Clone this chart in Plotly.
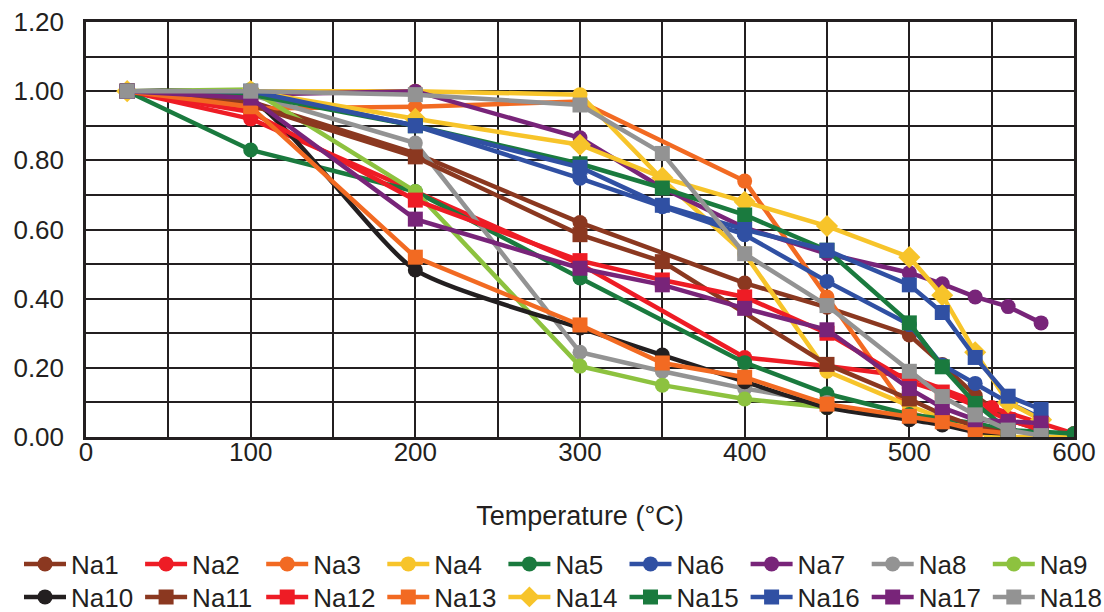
import plotly.graph_objects as go

# ---- data (temperature in °C, normalised value) ----
t_na1 = [25, 100, 200, 300, 400, 450, 500, 520, 540, 560, 580]
v_na1 = [1.00, 0.97, 0.82, 0.62, 0.445, 0.375, 0.295, 0.21, 0.12, 0.05, 0.02]

t_na2 = [25, 100, 300, 400, 450, 500, 550, 600]
v_na2 = [1.00, 0.92, 0.50, 0.23, 0.205, 0.175, 0.085, 0.01]

t_na3 = [25, 100, 200, 300, 400, 450, 500, 550]
v_na3 = [1.00, 0.95, 0.955, 0.97, 0.74, 0.405, 0.07, 0.005]

t_na4 = [25, 100, 200, 300, 350, 400, 450, 500, 550, 600]
v_na4 = [1.00, 1.00, 1.00, 0.99, 0.745, 0.53, 0.19, 0.09, 0.0, 0.0]

t_na5 = [25, 100, 200, 300, 400, 450, 500, 540, 560, 600]
v_na5 = [1.00, 0.83, 0.71, 0.46, 0.215, 0.125, 0.065, 0.04, 0.02, 0.01]

t_na6 = [25, 100, 200, 300, 350, 400, 450, 500, 520, 540, 560, 580]
v_na6 = [1.00, 1.00, 0.90, 0.748, 0.666, 0.585, 0.45, 0.325, 0.208, 0.155, 0.10, 0.055]

t_na7 = [25, 100, 200, 300, 350, 400, 450, 500, 520, 540, 560, 580]
v_na7 = [1.00, 0.99, 1.00, 0.865, 0.72, 0.605, 0.53, 0.475, 0.443, 0.405, 0.377, 0.33]

t_na8 = [25, 100, 200, 300, 350, 400, 450]
v_na8 = [1.00, 0.99, 0.85, 0.245, 0.19, 0.14, 0.10]

t_na9 = [25, 100, 200, 300, 350, 400, 450]
v_na9 = [1.00, 1.005, 0.71, 0.205, 0.15, 0.11, 0.085]

t_na10 = [25, 100, 200, 300, 350, 400, 450, 500, 520, 540, 560]
v_na10 = [1.00, 0.975, 0.483, 0.315, 0.237, 0.16, 0.085, 0.05, 0.035, 0.015, 0.01]

t_na11 = [25, 100, 200, 300, 350, 450, 500, 520, 540, 560]
v_na11 = [1.00, 0.96, 0.81, 0.585, 0.507, 0.21, 0.11, 0.065, 0.03, 0.01]

t_na12 = [25, 100, 200, 300, 350, 400, 450, 500, 520, 540, 560, 580]
v_na12 = [1.00, 0.94, 0.685, 0.51, 0.454, 0.405, 0.30, 0.16, 0.13, 0.09, 0.05, 0.02]

t_na13 = [25, 100, 200, 300, 350, 400, 450, 500, 520, 540, 560]
v_na13 = [1.00, 0.955, 0.52, 0.324, 0.214, 0.173, 0.095, 0.06, 0.044, 0.02, 0.01]

t_na14 = [25, 100, 200, 300, 350, 400, 450, 500, 520, 540, 560, 580]
v_na14 = [1.00, 1.00, 0.92, 0.845, 0.75, 0.68, 0.61, 0.52, 0.41, 0.245, 0.10, 0.05]

t_na15 = [25, 100, 200, 300, 350, 400, 450, 500, 520, 540, 560, 580]
v_na15 = [1.00, 0.99, 0.90, 0.79, 0.72, 0.642, 0.54, 0.33, 0.203, 0.097, 0.02, 0.01]

t_na16 = [25, 100, 200, 300, 350, 400, 450, 500, 520, 540, 560, 580]
v_na16 = [1.00, 1.00, 0.90, 0.78, 0.67, 0.60, 0.54, 0.44, 0.36, 0.23, 0.118, 0.08]

t_na17 = [25, 100, 200, 300, 350, 400, 450, 500, 520, 540, 560, 580]
v_na17 = [1.00, 0.98, 0.63, 0.488, 0.44, 0.372, 0.31, 0.14, 0.085, 0.05, 0.045, 0.04]

t_na18 = [25, 100, 200, 300, 350, 400, 450, 500, 520, 540, 560, 580]
v_na18 = [1.00, 1.00, 0.99, 0.96, 0.82, 0.53, 0.38, 0.19, 0.117, 0.064, 0.02, 0.004]

series_names = ["Na1", "Na2", "Na3", "Na4", "Na5", "Na6", "Na7", "Na8", "Na9",
                "Na10", "Na11", "Na12", "Na13", "Na14", "Na15", "Na16", "Na17", "Na18"]
series_t = [t_na1, t_na2, t_na3, t_na4, t_na5, t_na6, t_na7, t_na8, t_na9,
            t_na10, t_na11, t_na12, t_na13, t_na14, t_na15, t_na16, t_na17, t_na18]
series_v = [v_na1, v_na2, v_na3, v_na4, v_na5, v_na6, v_na7, v_na8, v_na9,
            v_na10, v_na11, v_na12, v_na13, v_na14, v_na15, v_na16, v_na17, v_na18]

x_ticks = [0, 100, 200, 300, 400, 500, 600]
y_ticks = [0.0, 0.2, 0.4, 0.6, 0.8, 1.0, 1.2]

# ---- styles ----
BROWN = "#8B3820"
RED = "#EE1C25"
ORANGE = "#F26A22"
YELLOW = "#F7C42A"
GREEN = "#1A7A3E"
BLUE = "#3050A3"
PURPLE = "#782479"
GRAY = "#939393"
LIME = "#8DC23F"
BLACK = "#231F20"

colors = [BROWN, RED, ORANGE, YELLOW, GREEN, BLUE, PURPLE, GRAY, LIME,
          BLACK, BROWN, RED, ORANGE, YELLOW, GREEN, BLUE, PURPLE, GRAY]
symbols = ["circle"] * 10 + ["square", "square", "square", "diamond",
                             "square", "square", "square", "square"]

FONT = "Liberation Sans, Arial, sans-serif"
INK = "#231F20"
FS = 26
N_COLS = 9
ROW_Y = [564, 597]          # legend row centres (px from top)


def legend_id(i):
    return "legend" if i == 0 else f"legend{i + 1}"


fig = go.Figure()
legends = {}
for i, (name, t, v, c, s) in enumerate(zip(series_names, series_t, series_v, colors, symbols)):
    lid = legend_id(i)
    fig.add_trace(go.Scatter(
        x=t, y=v, name=name, mode="lines+markers",
        legend=lid, showlegend=True,
        line=dict(color=c, width=4.5,
                  shape="spline" if name == "Na10" else "linear",
                  smoothing=0.6),
        marker=dict(color=c, symbol=s, size=17 if s == "diamond" else 15,
                    line=dict(width=0)),
    ))
    col, row = i % N_COLS, i // N_COLS
    legends[lid] = dict(
        orientation="h", xref="container", yref="container",
        x=(19 + 121.1 * col) / 1104, y=1 - ROW_Y[row] / 612,
        xanchor="left", yanchor="middle",
        font=dict(size=FS, family=FONT, color=INK),
        itemwidth=42, bgcolor="rgba(0,0,0,0)",
    )

fig.update_layout(
    width=1104, height=612,
    margin=dict(l=86, r=30, t=22, b=175),
    paper_bgcolor="white", plot_bgcolor="white",
    font=dict(family=FONT, color=INK, size=FS),
    showlegend=True,
    **legends,
)

fig.update_xaxes(
    range=[0, 600], tickvals=x_ticks, ticktext=[str(v) for v in x_ticks],
    showgrid=True, gridcolor=INK, gridwidth=1.5,
    minor=dict(dtick=50, showgrid=True, gridcolor=INK, gridwidth=1.5, tick0=0),
    showline=True, linecolor=INK, linewidth=2.5, mirror=True,
    ticks="", zeroline=False, automargin=False,
    ticklabelstandoff=-10,
    tickfont=dict(size=FS, family=FONT, color=INK),
    title=dict(text="Temperature (°C)", font=dict(size=27, family=FONT, color=INK),
               standoff=41),
)
fig.update_yaxes(
    range=[0, 1.2], tickvals=y_ticks, ticktext=[f"{v:.2f}" for v in y_ticks],
    showgrid=True, gridcolor=INK, gridwidth=1.5,
    minor=dict(dtick=0.1, showgrid=True, gridcolor=INK, gridwidth=1.5, tick0=0),
    showline=True, linecolor=INK, linewidth=2.5, mirror=True,
    ticks="", zeroline=False, automargin=False,
    ticklabelstandoff=14,
    tickfont=dict(size=FS, family=FONT, color=INK),
)

fig.write_html(
    "out.html",
    config={"displayModeBar": False},
    post_script="document.body.style.margin='0px';document.body.style.overflow='hidden';",
)
